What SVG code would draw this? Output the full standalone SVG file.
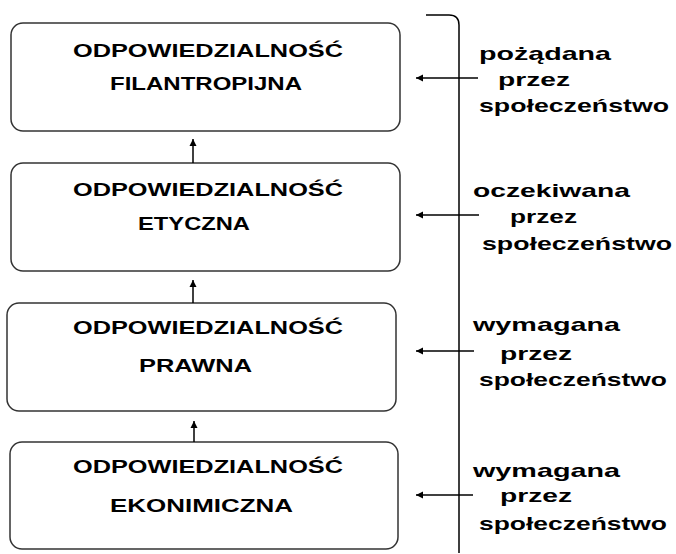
<svg xmlns="http://www.w3.org/2000/svg" width="676" height="554" viewBox="0 0 676 554">
<style>
.box{fill:#fff;stroke:#333;stroke-width:1.5}
.bt{font-family:"Liberation Sans",Arial,sans-serif;font-weight:bold;font-size:18px;fill:#000}
.rt{font-family:"Liberation Sans",Arial,sans-serif;font-weight:bold;font-size:19px;fill:#000}
.ln{stroke:#000;stroke-width:1.5;fill:none}
</style>
<defs>
<marker id="ah" markerWidth="8" markerHeight="8" refX="7" refY="4" orient="auto" markerUnits="userSpaceOnUse">
<path d="M0,0.5 L7,4 L0,7.5 Z" fill="#000"/>
</marker>
</defs>
<rect width="676" height="554" fill="#fff"/>
<g id="n1">
<rect class="box" x="11" y="23" width="389" height="108" rx="12"/>
<text class="bt" x="73" y="57" textLength="270" lengthAdjust="spacingAndGlyphs">ODPOWIEDZIALNOŚĆ</text>
<text class="bt" x="110" y="90" textLength="192" lengthAdjust="spacingAndGlyphs">FILANTROPIJNA</text>
</g>
<g id="n2">
<rect class="box" x="11" y="163" width="389" height="108" rx="12"/>
<text class="bt" x="73" y="196" textLength="270" lengthAdjust="spacingAndGlyphs">ODPOWIEDZIALNOŚĆ</text>
<text class="bt" x="138" y="230" textLength="112" lengthAdjust="spacingAndGlyphs">ETYCZNA</text>
</g>
<g id="n3">
<rect class="box" x="7" y="303" width="389" height="108" rx="12"/>
<text class="bt" x="73" y="334" textLength="270" lengthAdjust="spacingAndGlyphs">ODPOWIEDZIALNOŚĆ</text>
<text class="bt" x="139" y="372" textLength="113" lengthAdjust="spacingAndGlyphs">PRAWNA</text>
</g>
<g id="n4">
<rect class="box" x="10" y="442" width="388" height="107" rx="12"/>
<text class="bt" x="73" y="473" textLength="270" lengthAdjust="spacingAndGlyphs">ODPOWIEDZIALNOŚĆ</text>
<text class="bt" x="110" y="512" textLength="183" lengthAdjust="spacingAndGlyphs">EKONIMICZNA</text>
</g>
<g id="labels">
<text class="rt" x="479" y="60" textLength="132" lengthAdjust="spacingAndGlyphs">pożądana</text>
<text class="rt" x="498" y="86" textLength="72" lengthAdjust="spacingAndGlyphs">przez</text>
<text class="rt" x="479" y="112" textLength="190" lengthAdjust="spacingAndGlyphs">społeczeństwo</text>
<text class="rt" x="473" y="197" textLength="157" lengthAdjust="spacingAndGlyphs">oczekiwana</text>
<text class="rt" x="510" y="223" textLength="67" lengthAdjust="spacingAndGlyphs">przez</text>
<text class="rt" x="482" y="250" textLength="190" lengthAdjust="spacingAndGlyphs">społeczeństwo</text>
<text class="rt" x="473" y="331" textLength="147" lengthAdjust="spacingAndGlyphs">wymagana</text>
<text class="rt" x="500" y="360" textLength="72" lengthAdjust="spacingAndGlyphs">przez</text>
<text class="rt" x="479" y="386" textLength="188" lengthAdjust="spacingAndGlyphs">społeczeństwo</text>
<text class="rt" x="473" y="477" textLength="147" lengthAdjust="spacingAndGlyphs">wymagana</text>
<text class="rt" x="500" y="502" textLength="72" lengthAdjust="spacingAndGlyphs">przez</text>
<text class="rt" x="479" y="530" textLength="188" lengthAdjust="spacingAndGlyphs">społeczeństwo</text>
</g>
<g id="connectors">
<path class="ln" d="M426,15 H449 Q459,15 459,25 V553"/>
<line class="ln" x1="193" y1="163" x2="193" y2="139" marker-end="url(#ah)"/>
<line class="ln" x1="193" y1="303" x2="193" y2="280" marker-end="url(#ah)"/>
<line class="ln" x1="194" y1="442" x2="194" y2="421" marker-end="url(#ah)"/>
<line class="ln" x1="478" y1="78" x2="416" y2="78" marker-end="url(#ah)"/>
<line class="ln" x1="479" y1="215" x2="416" y2="215" marker-end="url(#ah)"/>
<line class="ln" x1="474" y1="351" x2="416" y2="351" marker-end="url(#ah)"/>
<line class="ln" x1="473" y1="495" x2="416" y2="495" marker-end="url(#ah)"/>
</g>
</svg>
